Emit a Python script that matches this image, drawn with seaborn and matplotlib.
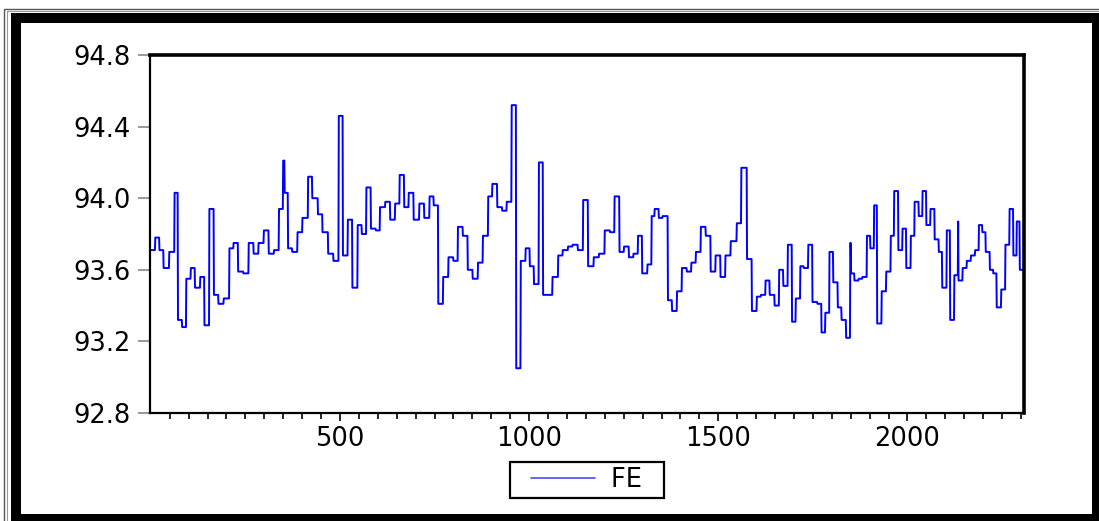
import numpy as np
import pandas as pd
import matplotlib
matplotlib.use("Agg")
import matplotlib.pyplot as plt
from matplotlib.patches import Rectangle
from matplotlib.lines import Line2D
import seaborn as sns

# FE series: piecewise-constant levels, each held from its starting observation
seg_start = [
    0, 11, 22, 33, 48, 62, 71, 82, 93, 105, 116, 130, 141, 154, 166, 178, 192, 207,
    218, 230, 244, 258, 271, 284, 298, 311, 325, 338, 349, 353, 362, 373,
    387, 400, 415, 426, 441, 453, 468, 482, 496, 507, 520, 532, 546, 557, 569, 581,
    594, 605, 619, 632, 645, 657, 669, 681, 694, 709, 722, 736, 747, 759,
    772, 786, 799, 811, 824, 837, 850, 864, 877, 891, 902, 915, 928, 940, 953, 965,
    977, 990, 1001, 1012, 1025, 1036, 1050, 1061, 1076, 1088, 1102, 1114, 1128, 1142,
    1155, 1170, 1184, 1199, 1213, 1225, 1238, 1250, 1263, 1275, 1287, 1298, 1312,
    1323, 1331, 1342, 1352, 1366, 1377, 1390, 1403, 1416, 1428, 1440, 1453, 1466,
    1479, 1492, 1505, 1518,
    1532, 1548, 1560, 1575, 1588, 1601, 1612, 1624, 1635, 1648, 1660, 1671, 1683,
    1694, 1704, 1716, 1725, 1737, 1748, 1761, 1772, 1782, 1793, 1803, 1815, 1825,
    1837, 1848, 1850, 1859, 1870, 1880, 1892, 1901, 1911,
    1919, 1931, 1943, 1955, 1964, 1975, 1986, 1996, 2008, 2018, 2029, 2039, 2049,
    2060, 2071, 2082, 2091, 2103, 2112, 2123, 2133, 2134, 2145, 2156, 2167, 2178,
    2188, 2197, 2206, 2217, 2226, 2235, 2247, 2258, 2269, 2279, 2288, 2296,
]
seg_level = [
    93.71, 93.78, 93.71, 93.61, 93.70, 94.03, 93.32, 93.28, 93.55, 93.61, 93.50, 93.56,
    93.29, 93.94, 93.46, 93.41, 93.44, 93.72, 93.75, 93.59, 93.58, 93.75, 93.69, 93.75,
    93.82, 93.69, 93.71, 93.94, 94.21, 94.03, 93.72, 93.70,
    93.81, 93.89, 94.12, 94.00, 93.91, 93.81, 93.69, 93.65, 94.46, 93.68, 93.88, 93.50,
    93.85, 93.80, 94.06, 93.83, 93.82, 93.95, 93.98, 93.88, 93.97, 94.13, 93.95, 94.03,
    93.88, 93.97, 93.89, 94.01, 93.96, 93.41,
    93.56, 93.67, 93.65, 93.84, 93.79, 93.60, 93.55, 93.64, 93.79, 94.01, 94.08, 93.95,
    93.93, 93.98, 94.52, 93.05, 93.65, 93.72, 93.62, 93.52, 94.20, 93.46, 93.46, 93.56,
    93.68, 93.71, 93.73, 93.74, 93.71, 93.99,
    93.62, 93.67, 93.69, 93.82, 93.81, 94.01, 93.70, 93.73, 93.67, 93.69, 93.79, 93.58,
    93.63, 93.90, 93.94, 93.89, 93.90, 93.43, 93.37, 93.48, 93.61, 93.59, 93.64, 93.70,
    93.84, 93.79, 93.59, 93.68, 93.56, 93.68,
    93.76, 93.86, 94.17, 93.66, 93.37, 93.45, 93.46, 93.54, 93.46, 93.40, 93.60, 93.51,
    93.74, 93.31, 93.44, 93.62, 93.61, 93.74, 93.42, 93.41, 93.25, 93.36, 93.70, 93.53,
    93.39, 93.32, 93.22, 93.75, 93.58, 93.54, 93.55, 93.56, 93.79, 93.72, 93.96,
    93.30, 93.48, 93.59, 93.79, 94.04, 93.71, 93.83, 93.61, 93.79, 93.98, 93.90, 94.04,
    93.85, 93.94, 93.77, 93.70, 93.50, 93.82, 93.32, 93.57, 93.87, 93.54, 93.61, 93.65,
    93.68, 93.71, 93.85, 93.81, 93.70, 93.60, 93.58, 93.39, 93.49, 93.74, 93.94, 93.68,
    93.87, 93.60,
]
n_obs = 2308
series_name = "FE"
y_ticks = [92.8, 93.2, 93.6, 94.0, 94.4, 94.8]
x_ticks = [500, 1000, 1500, 2000]

starts = np.array(seg_start + [n_obs])
lengths = np.diff(starts)
fe = np.repeat(np.array(seg_level), lengths)
df = pd.DataFrame({"obs": np.arange(1, n_obs + 1), series_name: fe})

sns.set_theme(style="white")
plt.rcParams["font.family"] = ["DejaVu Sans"]
plt.rcParams["text.color"] = "black"

W, H = 1099, 521
fig = plt.figure(figsize=(W / 100, H / 100), dpi=100)
fig.patch.set_facecolor("white")


def px_rect(x0, y0, x1, y1, **kw):
    """Rectangle given in pixel coordinates measured from the top-left corner."""
    return Rectangle((x0 / W, 1 - y1 / H), (x1 - x0) / W, (y1 - y0) / H,
                     transform=fig.transFigure, **kw)


# window frame: thin outer rules and heavy black border
fig.add_artist(px_rect(4, 9, 1104, 530, fill=False, edgecolor="#555555", linewidth=1.0))
fig.add_artist(px_rect(7, 11, 1104, 530, fill=False, edgecolor="#999999", linewidth=0.8))
for r in [(11, 13, 1099, 23), (11, 13, 21, 521), (11, 514, 1099, 521), (1092, 13, 1099, 521)]:
    fig.add_artist(px_rect(*r, facecolor="black", edgecolor="none"))

ax = fig.add_axes([150 / W, 1 - 413 / H, (1024 - 150) / W, (413 - 55) / H])
sns.lineplot(data=df, x="obs", y=series_name, ax=ax, color="#0000ff",
             linewidth=1.4, estimator=None, legend=False)

ax.set_xlim(-2, n_obs)
ax.set_ylim(y_ticks[0], y_ticks[-1])
ax.set_yticks(y_ticks)
ax.set_yticklabels([f"{v:.1f}" for v in y_ticks])
ax.set_xticks(x_ticks)
ax.set_xticks(np.arange(50, n_obs, 50), minor=True)
ax.set_xlabel("")
ax.set_ylabel("")
ax.grid(False)

for side in ["left", "bottom"]:
    ax.spines[side].set_linewidth(1.6)
    ax.spines[side].set_color("black")
for side in ["top", "right"]:
    ax.spines[side].set_linewidth(2.6)
    ax.spines[side].set_color("black")
    ax.spines[side].set_visible(True)

ax.tick_params(axis="y", which="major", direction="out", length=9, width=1.2,
               color="#888888", labelcolor="black", labelsize=18.5, pad=5, left=True)
ax.tick_params(axis="x", which="major", direction="out", length=6, width=1.2,
               color="black", labelcolor="black", labelsize=18.5, pad=3, bottom=True)
ax.tick_params(axis="x", which="minor", direction="out", length=4.5, width=1.2,
               color="black", bottom=True)
ax.tick_params(axis="y", which="minor", left=False)

fs_px = 18.5 * 100 / 72
handle = Line2D([], [], color="#4a4aff", linewidth=1.2)
leg = ax.legend([handle], [series_name + "  "], loc="center",
                bbox_to_anchor=(0.5, -0.188), frameon=True, fancybox=False,
                shadow=False, fontsize=18.5, handlelength=3.1, handletextpad=0.62,
                borderpad=0.2, borderaxespad=0)
leg.get_frame().set_edgecolor("black")
leg.get_frame().set_linewidth(1.6)
leg.get_frame().set_facecolor("white")
leg.get_frame().set_alpha(1)
# inset the sample line from the left edge of its handle box
sample = leg.get_lines()[0]
xd = np.asarray(sample.get_xdata(), dtype=float)
sample.set_xdata(np.linspace(xd[0] + 0.42 * fs_px, xd[-1], len(xd)))

fig.savefig("out.png", dpi=100)
